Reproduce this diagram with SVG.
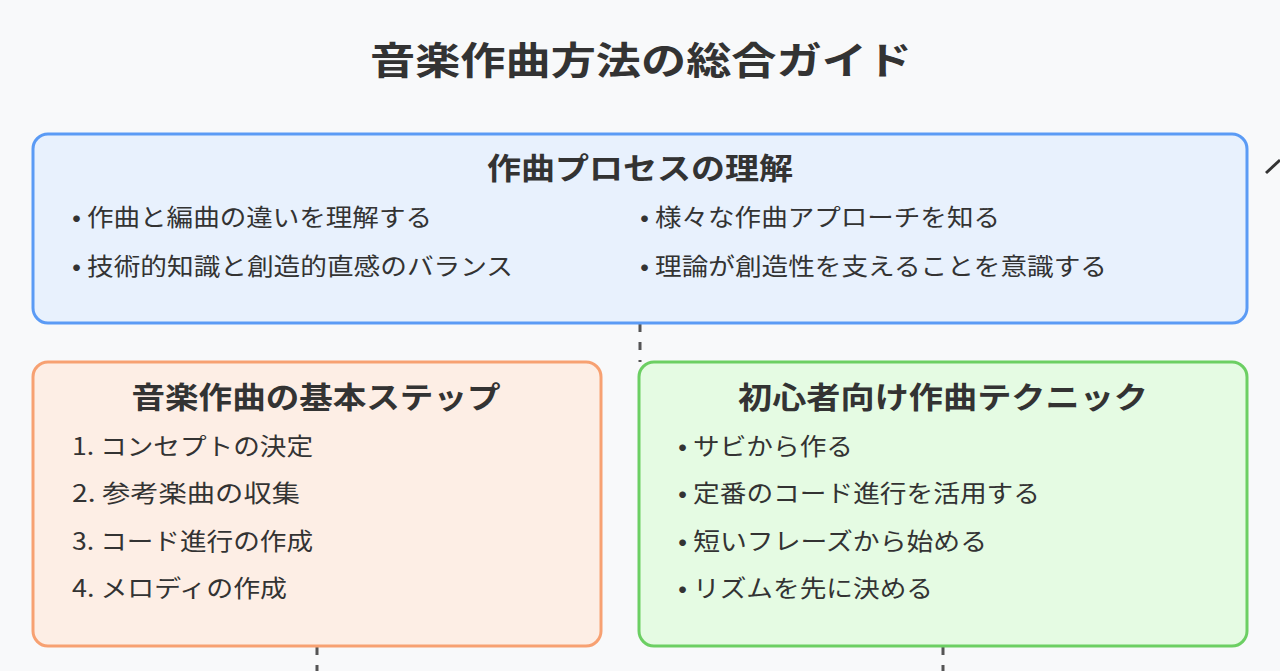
<svg xmlns="http://www.w3.org/2000/svg" width="1280" height="671" viewBox="0 0 1280 671">
<style>
text{font-family:"Noto Sans CJK JP","Noto Sans",sans-serif;fill:#333}
.t{font-size:38px;font-weight:bold;text-anchor:middle}
.h{font-size:30px;font-weight:bold;text-anchor:middle}
.b{font-size:24px}
.c{stroke:#555;stroke-width:3;stroke-dasharray:8 10;fill:none}
</style>
<rect width="1280" height="671" fill="#f8f9fa"/>
<text class="t" x="641" y="74" textLength="542" lengthAdjust="spacingAndGlyphs">音楽作曲方法の総合ガイド</text>
<g id="connectors">
<path class="c" d="M640 324V362"/>
<path class="c" d="M317 647V671"/>
<path class="c" d="M943 647V671"/>
<path d="M1266 173L1280 160" stroke="#333" stroke-width="3"/>
</g>
<g id="process">
<rect x="33" y="134" width="1214" height="189" rx="15" fill="#e8f1fd" stroke="#5b9bf5" stroke-width="3"/>
<text class="h" x="640" y="179" textLength="306" lengthAdjust="spacingAndGlyphs">作曲プロセスの理解</text>
<text class="b" x="72" y="226" textLength="360" lengthAdjust="spacingAndGlyphs">• 作曲と編曲の違いを理解する</text>
<text class="b" x="72" y="275" textLength="441" lengthAdjust="spacingAndGlyphs">• 技術的知識と創造的直感のバランス</text>
<text class="b" x="640" y="226" textLength="360" lengthAdjust="spacingAndGlyphs">• 様々な作曲アプローチを知る</text>
<text class="b" x="640" y="275" textLength="467" lengthAdjust="spacingAndGlyphs">• 理論が創造性を支えることを意識する</text>
</g>
<g id="steps">
<rect x="33" y="362" width="568" height="284" rx="15" fill="#fdeee5" stroke="#f7a172" stroke-width="3"/>
<text class="h" x="316" y="408" textLength="369" lengthAdjust="spacingAndGlyphs">音楽作曲の基本ステップ</text>
<text class="b" x="72" y="455" textLength="241" lengthAdjust="spacingAndGlyphs">1. コンセプトの決定</text>
<text class="b" x="72" y="502" textLength="228" lengthAdjust="spacingAndGlyphs">2. 参考楽曲の収集</text>
<text class="b" x="72" y="550" textLength="241" lengthAdjust="spacingAndGlyphs">3. コード進行の作成</text>
<text class="b" x="72" y="597" textLength="215" lengthAdjust="spacingAndGlyphs">4. メロディの作成</text>
</g>
<g id="techniques">
<rect x="639" y="362" width="608" height="284" rx="15" fill="#e5fbe3" stroke="#6ccf63" stroke-width="3"/>
<text class="h" x="943" y="408" textLength="410" lengthAdjust="spacingAndGlyphs">初心者向け作曲テクニック</text>
<text class="b" x="678" y="455" textLength="175" lengthAdjust="spacingAndGlyphs">• サビから作る</text>
<text class="b" x="678" y="502" textLength="362" lengthAdjust="spacingAndGlyphs">• 定番のコード進行を活用する</text>
<text class="b" x="678" y="550" textLength="309" lengthAdjust="spacingAndGlyphs">• 短いフレーズから始める</text>
<text class="b" x="678" y="597" textLength="255" lengthAdjust="spacingAndGlyphs">• リズムを先に決める</text>
</g>
</svg>
